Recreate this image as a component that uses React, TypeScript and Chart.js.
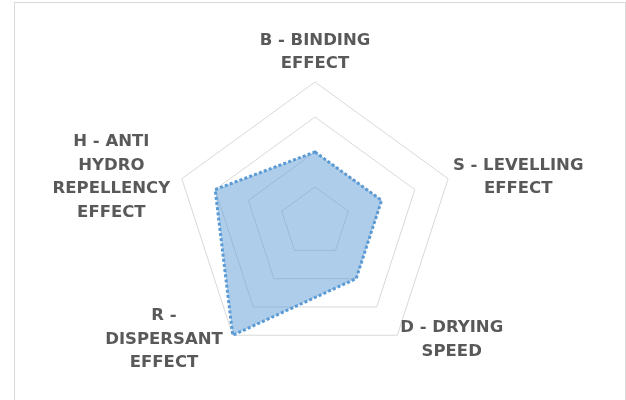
import React, { useEffect, useRef } from "react";
import { Chart, registerables } from "chart.js";

Chart.register(...registerables);

const categories: string[][] = [
  ["B - BINDING", "EFFECT"],
  ["S - LEVELLING", "EFFECT"],
  ["D - DRYING", "SPEED"],
  ["R -", "DISPERSANT", "EFFECT"],
  ["H - ANTI", "HYDRO", "REPELLENCY", "EFFECT"],
];
const seriesValues: number[] = [2, 2, 2, 4, 3];
const scaleMin = 0;
const scaleMax = 4;
const scaleStep = 1;

const FONT_SIZE = 16.5;
const FONT_FAMILY = '"DejaVu Sans", sans-serif';
const LABEL_COLOR = "#595959";
const LINE_H = 23.5;
const CAP_H = 12;
const LABEL_PAD = 5;

const labelPlugin = {
  id: "centeredPointLabels",
  afterDraw(chart: any) {
    const scale = chart.scales.r;
    const ctx = chart.ctx as CanvasRenderingContext2D;
    const labels = chart.data.labels as string[][];
    ctx.save();
    ctx.font = `bold ${FONT_SIZE}px ${FONT_FAMILY}`;
    ctx.fillStyle = LABEL_COLOR;
    ctx.textAlign = "center";
    ctx.textBaseline = "alphabetic";
    labels.forEach((lines, i) => {
      const pos = scale.getPointPosition(i, scale.drawingArea + LABEL_PAD);
      const deg = Math.round((scale.getIndexAngle(i) * 180) / Math.PI) % 360;
      const maxW = Math.max(...lines.map((l) => ctx.measureText(l).width));
      const n = lines.length;
      let cx: number;
      let firstCap: number;
      if (deg === 0 || deg === 180) {
        cx = pos.x;
        firstCap = pos.y - 14.8 - (n - 1) * LINE_H;
      } else if (deg < 180) {
        cx = pos.x + maxW / 2;
        firstCap = pos.y - 1.5 - ((n - 1) / 2) * LINE_H;
      } else {
        cx = pos.x - 7 - maxW / 2;
        firstCap = pos.y - 1.5 - ((n - 1) / 2) * LINE_H;
      }
      lines.forEach((l, k) => {
        ctx.fillText(l, cx, firstCap + k * LINE_H + CAP_H / 2);
      });
    });
    ctx.restore();
  },
};

export default function App() {
  const canvasRef = useRef<HTMLCanvasElement | null>(null);

  useEffect(() => {
    if (!canvasRef.current) return;
    const chart = new Chart(canvasRef.current, {
      type: "radar",
      data: {
        labels: categories,
        datasets: [
          {
            data: seriesValues,
            backgroundColor: "rgba(91,155,213,0.5)",
            borderColor: "#5b9bd5",
            borderWidth: 3,
            borderDash: [3, 2.2],
            pointRadius: 0,
            pointHoverRadius: 0,
            fill: true,
            tension: 0,
          },
        ],
      },
      options: {
        animation: false,
        responsive: true,
        maintainAspectRatio: false,
        layout: { padding: { left: 175, right: 171, top: 82, bottom: 38 } },
        plugins: {
          legend: { display: false },
          tooltip: { enabled: false },
        },
        scales: {
          r: {
            min: scaleMin,
            max: scaleMax,
            ticks: { display: false, stepSize: scaleStep },
            grid: { color: "#d9d9d9", lineWidth: 1 },
            angleLines: { display: false },
            pointLabels: { display: false },
          },
        },
      },
      plugins: [labelPlugin],
    });
    return () => chart.destroy();
  }, []);

  return (
    <div
      style={{
        position: "fixed",
        left: 0,
        top: 0,
        width: 626,
        height: 400,
        overflow: "hidden",
        background: "#ffffff",
      }}
    >
      <div
        style={{
          position: "absolute",
          left: 14,
          top: 2,
          width: 610,
          height: 450,
          border: "1px solid #d9d9d9",
        }}
      />
      <div style={{ position: "absolute", left: 0, top: 0, width: 626, height: 400 }}>
        <canvas ref={canvasRef} />
      </div>
    </div>
  );
}
